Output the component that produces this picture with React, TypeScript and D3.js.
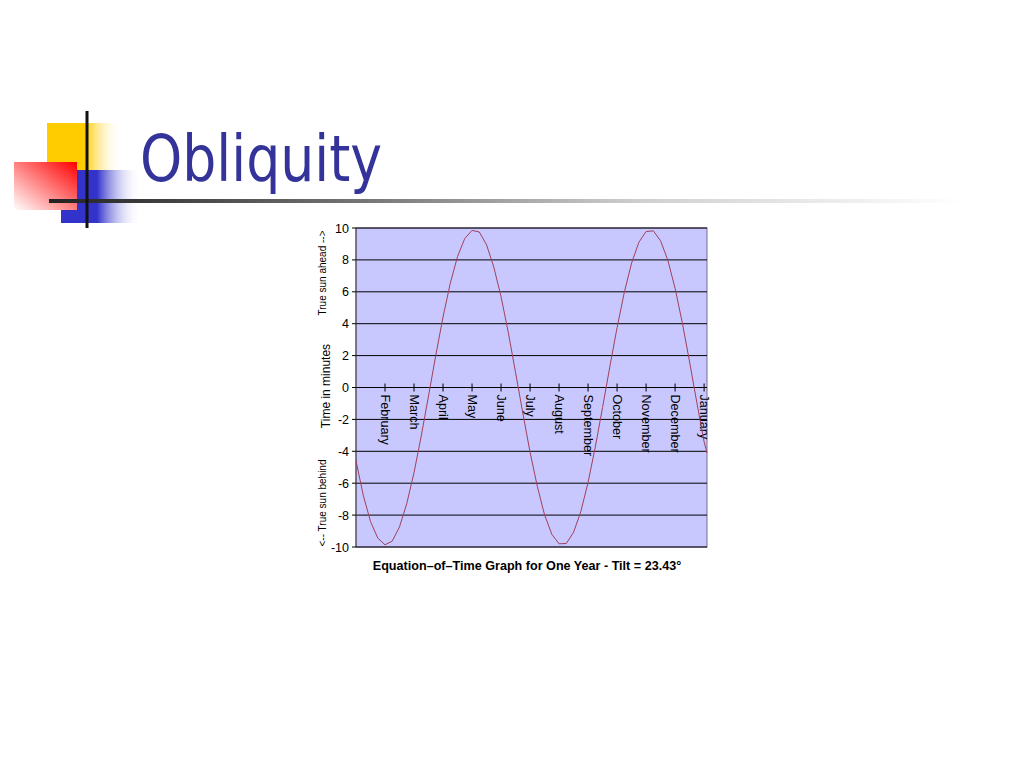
import React from "react";
import * as d3 from "d3";

const monthLabels = ["February","March","April","May","June","July","August","September","October","November","December","January"];
const monthTicks = [1,2,3,4,5,6,7,8,9,10,11,12];
const yTicks = [-10,-8,-6,-4,-2,0,2,4,6,8,10];

// x position in months from start of year, equation-of-time (obliquity part) in minutes
const sampleMonths = [0,0.25,0.5,0.75,1,1.25,1.5,1.75,2,2.25,2.5,2.75,3,3.25,3.5,3.75,4,4.25,4.5,4.75,5,5.25,5.5,5.75,6,6.25,6.5,6.75,7,7.25,7.5,7.75,8,8.25,8.5,8.75,9,9.25,9.5,9.75,10,10.25,10.5,10.75,11,11.25,11.5,11.75,12,12.1];
const minutes = [-4.6,-6.75,-8.4,-9.44,-9.86,-9.63,-8.74,-7.28,-5.34,-3.03,-0.53,2.01,4.42,6.53,8.21,9.34,9.85,9.75,8.95,7.55,5.7,3.45,0.95,-1.6,-4.05,-6.2,-7.98,-9.2,-9.8,-9.78,-9.08,-7.78,-5.95,-3.72,-1.25,1.3,3.75,5.97,7.8,9.1,9.78,9.82,9.2,7.98,6.22,4.05,1.6,-0.95,-3.4,-4.1];

const xScale = d3.scaleLinear().domain([0, 12.1]).range([356, 707]);
const yScale = d3.scaleLinear().domain([-10, 10]).range([547, 228]);

export default function App() {
  const pts: [number, number][] = sampleMonths.map((m, i) => [m, minutes[i]]);
  const line = d3.line<[number, number]>().x(d => xScale(d[0])).y(d => yScale(d[1]))(pts) || "";
  const axisFont = "'Liberation Sans', Arial, sans-serif";
  return (
    <svg width={1024} height={768} style={{ position: "absolute", left: 0, top: 0, background: "#fff" }}>
      <defs>
        <linearGradient id="gy" x1="0" y1="0" x2="1" y2="0">
          <stop offset="0" stopColor="#FFCC00" />
          <stop offset="0.5" stopColor="#FFCC00" />
          <stop offset="1" stopColor="#FFFFFF" stopOpacity="0" />
        </linearGradient>
        <linearGradient id="gb" x1="0" y1="0" x2="1" y2="0">
          <stop offset="0" stopColor="#3333CC" />
          <stop offset="0.45" stopColor="#3333CC" />
          <stop offset="1" stopColor="#FFFFFF" stopOpacity="0" />
        </linearGradient>
        <linearGradient id="gr" x1="1" y1="0" x2="0" y2="1">
          <stop offset="0" stopColor="#FF0000" />
          <stop offset="1" stopColor="#FFFFFF" />
        </linearGradient>
        <linearGradient id="gl" x1="0" y1="0" x2="1" y2="0">
          <stop offset="0" stopColor="#222222" />
          <stop offset="0.35" stopColor="#777777" />
          <stop offset="0.65" stopColor="#D0D0D0" />
          <stop offset="1" stopColor="#FFFFFF" />
        </linearGradient>
      </defs>
      {/* decoration */}
      <rect x={47} y={123} width={75} height={49} fill="url(#gy)" />
      <rect x={61} y={170} width={80} height={53} fill="url(#gb)" />
      <rect x={14} y={162} width={63} height={48} fill="url(#gr)" />
      <rect x={49} y={199} width={915} height={4} fill="url(#gl)" />
      <rect x={85.5} y={111} width={3} height={117} fill="#111" />
      <text x={140} y={181} fontFamily="'DejaVu Sans Condensed', 'DejaVu Sans', Tahoma, sans-serif" fontStretch="condensed" fontSize={64} fill="#333399" textLength={242} lengthAdjust="spacingAndGlyphs">Obliquity</text>

      {/* plot area */}
      <rect x={356} y={228} width={351} height={319} fill="#C8C8FF" stroke="#7A6A96" strokeWidth={1} />
      {yTicks.map(t => (
        <line key={"g" + t} x1={356} x2={707} y1={yScale(t)} y2={yScale(t)} stroke="#000" strokeWidth={1} />
      ))}
      <line x1={356} x2={356} y1={228} y2={547} stroke="#444" strokeWidth={1} />
      {yTicks.map(t => (
        <g key={"yt" + t}>
          <line x1={352} x2={356} y1={yScale(t)} y2={yScale(t)} stroke="#000" />
          <text x={349} y={yScale(t)} dy="0.36em" textAnchor="end" fontFamily={axisFont} fontSize={12.5} fill="#000">{t}</text>
        </g>
      ))}
      {monthTicks.map((m, i) => (
        <g key={"m" + m}>
          <line x1={xScale(m)} x2={xScale(m)} y1={yScale(0) - 4} y2={yScale(0) + 4} stroke="#000" />
          <text transform={`translate(${xScale(m)},${yScale(0) + 7}) rotate(90)`} dy="0.35em" fontFamily={axisFont} fontSize={12.6} fill="#000">{monthLabels[i]}</text>
        </g>
      ))}
      <path d={line} fill="none" stroke="#A0405A" strokeWidth={1} />

      {/* axis titles */}
      <text transform={`translate(326,273) rotate(-90)`} textAnchor="middle" fontFamily={axisFont} fontSize={10} fill="#000">True sun ahead --&gt;</text>
      <text transform={`translate(330,386) rotate(-90)`} textAnchor="middle" fontFamily={axisFont} fontSize={12} fill="#000">Time in minutes</text>
      <text transform={`translate(326,503) rotate(-90)`} textAnchor="middle" fontFamily={axisFont} fontSize={10} fill="#000">&lt;-- True sun behind</text>
      <text x={527} y={570} textAnchor="middle" fontFamily={axisFont} fontSize={12.6} fontWeight="bold" fill="#000">Equation–of–Time Graph for One Year - Tilt = 23.43°</text>
    </svg>
  );
}
